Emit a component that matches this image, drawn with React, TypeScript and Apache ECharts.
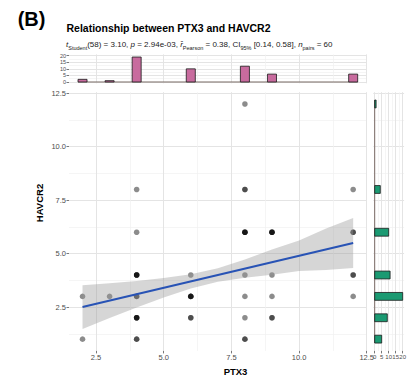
import React, { useEffect, useRef } from "react";
import * as echarts from "echarts";

// [PTX3, HAVCR2, number of overlapping observations]
const POINTS: [number, number, number][] = [
  [2, 3, 1], [2, 1, 1],
  [3, 3, 1],
  [4, 8, 1], [4, 6, 1], [4, 4, 4], [4, 3, 2], [4, 2, 4], [4, 1, 2],
  [6, 4, 1], [6, 3, 4], [6, 2, 2],
  [8, 12, 1], [8, 8, 2], [8, 6, 4], [8, 4, 1], [8, 3, 1], [8, 2, 1], [8, 1, 2],
  [9, 6, 4], [9, 4, 1], [9, 3, 1], [9, 2, 2],
  [12, 8, 1], [12, 6, 2], [12, 4, 2], [12, 3, 1],
];

const PTX3_HIST_X = [2, 3, 4, 6, 8, 9, 12];
const PTX3_HIST_N = [2, 1, 19, 10, 12, 6, 6];
const HAVCR2_HIST_Y = [12, 8, 6, 4, 3, 2, 1];
const HAVCR2_HIST_N = [1, 4, 10, 11, 20, 9, 5];

const FIT_X = [2, 12];
const FIT_Y = [2.5, 5.5];
const CI_X = [2, 3, 4, 5, 6, 7, 8, 9, 10, 11, 12];
const CI_LOWER = [1.48, 1.99, 2.48, 2.95, 3.37, 3.68, 3.87, 4.01, 4.19, 4.23, 4.33];
const CI_UPPER = [3.52, 3.61, 3.72, 3.86, 4.03, 4.32, 4.73, 5.19, 5.61, 6.17, 6.67];

const MAIN_X_TICKS = [2.5, 5, 7.5, 10, 12.5];
const MAIN_X_MINOR = [3.75, 6.25, 8.75, 11.25];
const MAIN_Y_TICKS = [2.5, 5, 7.5, 10, 12.5];
const MAIN_Y_MINOR = [1.25, 3.75, 6.25, 8.75, 11.25];
const COUNT_TICKS = [0, 5, 10, 15, 20];
const COUNT_MINOR = [2.5, 7.5, 12.5, 17.5];

const TITLE = "Relationship between PTX3 and HAVCR2";
const X_NAME = "PTX3";
const Y_NAME = "HAVCR2";

const FONT = "'Liberation Sans', Arial, Helvetica, sans-serif";
const MAJOR = "#e4e4e4";
const MINOR = "#f1f1f1";

function axis(
  gridIndex: number,
  min: number,
  max: number,
  ticks: number[],
  opts: { labels?: boolean; minor?: boolean; fontSize?: number; fmt?: (v: number) => string }
) {
  const minor = !!opts.minor;
  return {
    type: "value",
    gridIndex,
    min,
    max,
    axisLine: { show: false },
    axisTick: {
      show: !!opts.labels && !minor,
      customValues: ticks,
      length: 2.5,
      lineStyle: { color: "#555", width: 0.8 },
    },
    axisLabel: {
      show: !!opts.labels && !minor,
      customValues: ticks,
      color: "#4d4d4d",
      fontFamily: FONT,
      fontSize: opts.fontSize ?? 7.5,
      margin: 3,
      formatter: (v: number) => (opts.fmt ? opts.fmt(v) : String(v)),
    },
    splitLine: { show: true, lineStyle: { color: minor ? MINOR : MAJOR, width: minor ? 0.7 : 1 } },
  };
}

const oneDec = (v: number) => v.toFixed(1);

export default function App() {
  const ref = useRef<HTMLDivElement>(null);
  useEffect(() => {
    if (!ref.current) return;
    const chart = echarts.init(ref.current, undefined, { renderer: "svg" });

    const scatterData: number[][] = [];
    POINTS.forEach(([x, y, n]) => {
      for (let i = 0; i < n; i++) scatterData.push([x, y]);
    });

    const BIN_W = 1 / 3;
    const BIN_H = 11 / 30;

    const grids = [
      { left: 69, right: 51.3, top: 92.2, bottom: 31.1 },
      { left: 69, right: 51.3, top: 54.4, bottom: 298.7 },
      { left: 373.3, right: 13.9, top: 92.2, bottom: 31.1 },
    ];

    const xAxes = [
      axis(0, 1.5, 12.5, MAIN_X_TICKS, { labels: true, fmt: oneDec }),
      axis(0, 1.5, 12.5, MAIN_X_MINOR, { minor: true }),
      axis(1, 1.5, 12.5, MAIN_X_TICKS, {}),
      axis(1, 1.5, 12.5, MAIN_X_MINOR, { minor: true }),
      axis(2, -1, 21, COUNT_TICKS, { labels: true, fontSize: 6 }),
      axis(2, -1, 21, COUNT_MINOR, { minor: true }),
    ];
    const yAxes = [
      axis(0, 0.45, 12.55, MAIN_Y_TICKS, { labels: true, fmt: oneDec }),
      axis(0, 0.45, 12.55, MAIN_Y_MINOR, { minor: true }),
      axis(1, -1, 21, COUNT_TICKS, { labels: true, fontSize: 5.5 }),
      axis(1, -1, 21, COUNT_MINOR, { minor: true }),
      axis(2, 0.45, 12.55, MAIN_Y_TICKS, {}),
      axis(2, 0.45, 12.55, MAIN_Y_MINOR, { minor: true }),
    ];

    const option: any = {
      animation: false,
      backgroundColor: "#ffffff",
      grid: grids,
      xAxis: xAxes,
      yAxis: yAxes,
      series: [
        {
          type: "scatter",
          xAxisIndex: 0,
          yAxisIndex: 0,
          data: scatterData,
          symbolSize: 5.6,
          itemStyle: { color: "#000", opacity: 0.45 },
          z: 2,
        },
        {
          type: "custom",
          xAxisIndex: 0,
          yAxisIndex: 0,
          data: [[CI_X[0], CI_LOWER[0]]],
          encode: { x: 0, y: 1 },
          renderItem: (_p: any, api: any) => {
            const upper = CI_X.map((x, i) => api.coord([x, CI_UPPER[i]]));
            const lower = CI_X.map((x, i) => api.coord([x, CI_LOWER[i]])).reverse();
            return {
              type: "polygon",
              shape: { points: upper.concat(lower) },
              style: { fill: "rgba(153,153,153,0.4)" },
            };
          },
          z: 3,
        },
        {
          type: "line",
          xAxisIndex: 0,
          yAxisIndex: 0,
          data: FIT_X.map((x, i) => [x, FIT_Y[i]]),
          symbol: "none",
          lineStyle: { color: "#2853b5", width: 2 },
          z: 4,
        },
        {
          type: "line",
          xAxisIndex: 2,
          yAxisIndex: 2,
          data: [[1.83, 0], [12.17, 0]],
          symbol: "none",
          lineStyle: { color: "#7a6b66", width: 1 },
          z: 2,
        },
        {
          type: "custom",
          xAxisIndex: 2,
          yAxisIndex: 2,
          data: PTX3_HIST_X.map((x, i) => [x, PTX3_HIST_N[i]]),
          encode: { x: 0, y: 1 },
          renderItem: (_p: any, api: any) => {
            const x = api.value(0);
            const n = api.value(1);
            const p0 = api.coord([x, 0]);
            const p1 = api.coord([x, n]);
            const w = api.size([BIN_W, 0])[0];
            return {
              type: "rect",
              shape: { x: p0[0] - w / 2, y: p1[1], width: w, height: p0[1] - p1[1] },
              style: { fill: "#c86b9e", stroke: "#1a1a1a", lineWidth: 0.8 },
            };
          },
          z: 3,
        },
        {
          type: "line",
          xAxisIndex: 4,
          yAxisIndex: 4,
          data: [[0, 0.82], [0, 12.18]],
          symbol: "none",
          lineStyle: { color: "#7a6b66", width: 1 },
          z: 2,
        },
        {
          type: "custom",
          xAxisIndex: 4,
          yAxisIndex: 4,
          data: HAVCR2_HIST_Y.map((y, i) => [HAVCR2_HIST_N[i], y]),
          encode: { x: 0, y: 1 },
          renderItem: (_p: any, api: any) => {
            const n = api.value(0);
            const y = api.value(1);
            const p0 = api.coord([0, y]);
            const p1 = api.coord([n, y]);
            const h = api.size([0, BIN_H])[1];
            return {
              type: "rect",
              shape: { x: p0[0], y: p0[1] - h / 2, width: p1[0] - p0[0], height: h },
              style: { fill: "#1b9a72", stroke: "#1a1a1a", lineWidth: 0.8 },
            };
          },
          z: 3,
        },
      ],
      graphic: [
        {
          type: "text",
          x: 31.5,
          y: 18.5,
          style: {
            text: "(B)",
            fontFamily: FONT,
            fontWeight: "bold",
            fontSize: 20,
            fill: "#000",
            align: "center",
            verticalAlign: "middle",
          },
        },
        {
          type: "text",
          x: 66.5,
          y: 28,
          style: {
            text: TITLE,
            fontFamily: FONT,
            fontWeight: "bold",
            fontSize: 10.5,
            fill: "#000",
            align: "left",
            verticalAlign: "middle",
          },
        },
        {
          type: "text",
          x: 66,
          y: 44.5,
          style: {
            text:
              "{i|t}{s|Student}{n|(58) = 3.10, }{i|p}{n| = 2.94e-03, }{i|r\u0302}{s|Pearson}{n| = 0.38, CI}{s|95%}{n| [0.14, 0.58], }{i|n}{s|pairs}{n| = 60}",
            fontFamily: FONT,
            fontSize: 8,
            fill: "#1a1a1a",
            align: "left",
            verticalAlign: "middle",
            rich: {
              n: { fontFamily: FONT, fontSize: 8, lineHeight: 12, verticalAlign: "middle", fill: "#1a1a1a" },
              i: { fontFamily: FONT, fontSize: 8, fontStyle: "italic", lineHeight: 12, verticalAlign: "middle", fill: "#1a1a1a" },
              s: { fontFamily: FONT, fontSize: 5.5, lineHeight: 6, verticalAlign: "bottom", fill: "#1a1a1a" },
            },
          },
        },
        {
          type: "text",
          x: 235.5,
          y: 371.5,
          style: {
            text: X_NAME,
            fontFamily: FONT,
            fontWeight: "bold",
            fontSize: 9.5,
            fill: "#000",
            align: "center",
            verticalAlign: "middle",
          },
        },
        {
          type: "text",
          x: 39,
          y: 203,
          rotation: Math.PI / 2,
          style: {
            text: Y_NAME,
            fontFamily: FONT,
            fontWeight: "bold",
            fontSize: 9.5,
            fill: "#000",
            align: "center",
            verticalAlign: "middle",
          },
        },
      ],
    };

    chart.setOption(option);
    return () => chart.dispose();
  }, []);

  return (
    <div
      ref={ref}
      style={{ position: "fixed", left: 0, top: 0, width: 418, height: 382, background: "#fff" }}
    />
  );
}
